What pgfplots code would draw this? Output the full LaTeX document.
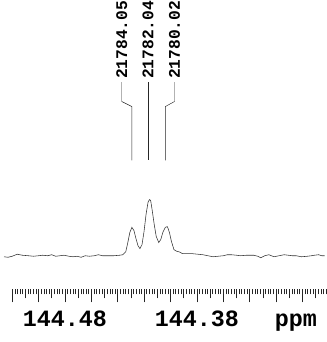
\documentclass[border=0pt]{standalone}
\usepackage{fontspec}
\usepackage{pgfplots}
\pgfplotsset{compat=1.18}
\newfontfamily\monob{Liberation Mono}
\begin{document}
\begin{tikzpicture}
\begin{axis}[
  scale only axis, width=322pt, height=290pt,
  x dir=reverse, xmin=144.2815, xmax=144.5292,
  ymin=-32, ymax=258,
  axis x line=bottom, axis y line=none,
  axis line style={draw=none},
  clip=false,
  tick align=outside,
  xtick={144.28,144.30,144.32,144.34,144.36,144.38,144.40,144.42,144.44,144.46,144.48,144.50,144.52},
  xticklabels={,,,,,144.38,,,,,144.48,,},
  minor x tick num=9,
  extra x ticks={144.29,144.31,144.33,144.35,144.37,144.39,144.41,144.43,144.45,144.47,144.49,144.51},
  extra x tick labels={},
  extra x tick style={major tick length=9pt},
  major tick length=13pt, minor tick length=5pt,
  every tick/.style={black!85, line width=0.45pt},
  xticklabel style={font=\monob\bfseries\fontsize{23}{25}\selectfont, anchor=base, yshift=-24pt},
]
\addplot[black!80, line width=0.55pt] coordinates {
(144.52615,0) (144.52308,-0.5) (144.52000,0.5) (144.51615,2.5) (144.51231,1.5)
(144.50769,1) (144.50385,0.5) (144.50000,1) (144.49692,1.5) (144.49308,1)
(144.49000,2) (144.48692,0.5) (144.48385,1) (144.48077,1.5) (144.47692,0.5)
(144.47385,0) (144.47077,0.5) (144.46769,-0.5) (144.46462,1) (144.46154,0.5)
(144.45769,1) (144.45462,2) (144.45154,1) (144.44769,1) (144.44308,1)
(144.43846,1.5) (144.43615,2) (144.43385,5) (144.43231,14) (144.43077,24)
(144.42923,29) (144.42769,26) (144.42615,18) (144.42462,11) (144.42308,8)
(144.42154,12) (144.42000,25) (144.41846,42) (144.41692,54) (144.41592,56.3)
(144.41500,55.5) (144.41385,46) (144.41231,32) (144.41077,20) (144.40885,14)
(144.40731,17) (144.40577,24) (144.40385,29) (144.40231,29.7) (144.40077,24)
(144.39923,15) (144.39731,7) (144.39538,5.5) (144.39308,4.7) (144.39077,3)
(144.38769,3) (144.38308,3) (144.37923,2.5) (144.37538,2) (144.37154,1)
(144.36769,0) (144.36385,0.5) (144.36000,1) (144.35692,2) (144.35385,2)
(144.35000,1.5) (144.34692,1) (144.34231,1.5) (144.33692,1.5) (144.33385,0.5)
(144.33154,-1) (144.32846,1) (144.32538,2) (144.32154,0) (144.31769,1)
(144.31385,2) (144.31077,1.5) (144.30769,1) (144.30462,1) (144.30077,0)
(144.29615,0.5) (144.29308,1) (144.29077,1.5) (144.28769,2) (144.28538,1)
(144.28308,1)
};
\addplot[black!85, line width=0.45pt] coordinates {(144.43692,172) (144.43692,153) (144.42923,148) (144.42923,95)};
\addplot[black!85, line width=0.45pt] coordinates {(144.41692,172) (144.41692,95)};
\addplot[black!85, line width=0.45pt] coordinates {(144.39692,172) (144.39692,153) (144.40385,148) (144.40385,95)};
\node[rotate=90, anchor=west, inner sep=1pt, font=\monob\bfseries\fontsize{16}{18}\selectfont] at (axis cs:144.43692,174) {21784.05};
\node[rotate=90, anchor=west, inner sep=1pt, font=\monob\bfseries\fontsize{16}{18}\selectfont] at (axis cs:144.41692,174) {21782.04};
\node[rotate=90, anchor=west, inner sep=1pt, font=\monob\bfseries\fontsize{16}{18}\selectfont] at (axis cs:144.39692,174) {21780.02};
\node[anchor=base, inner sep=0pt, font=\monob\bfseries\fontsize{23}{25}\selectfont] at (axis cs:144.305,-69) {ppm};
\end{axis}
\path ([yshift=-52pt]current axis.south west) -- ([yshift=-52pt]current axis.south east);
\end{tikzpicture}
\end{document}
